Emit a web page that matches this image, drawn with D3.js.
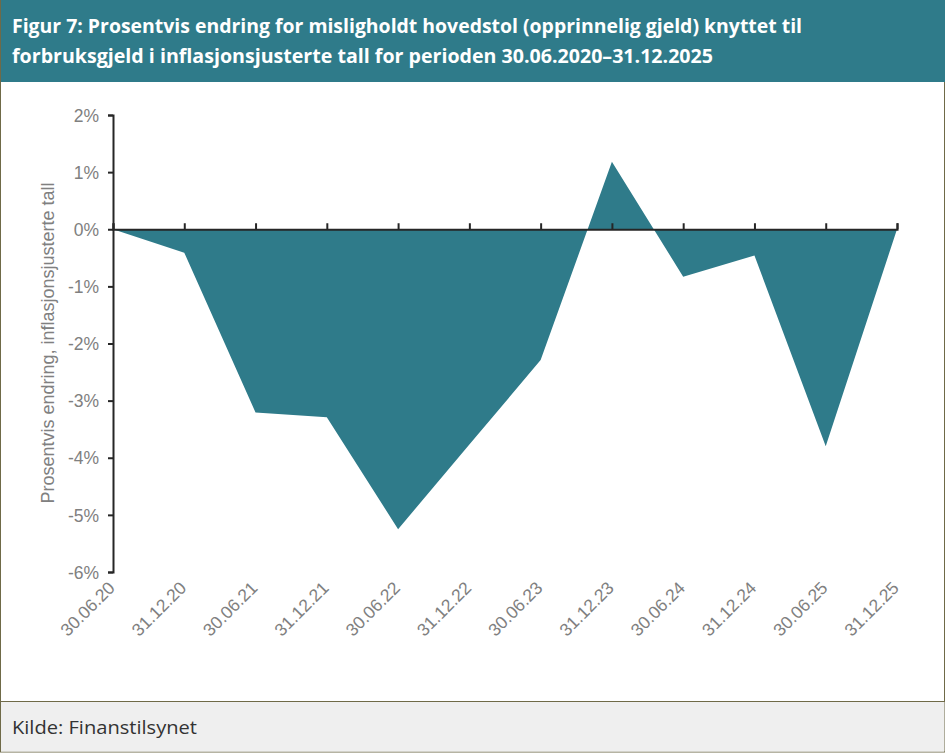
<!DOCTYPE html>
<html lang="no">
<head>
    <meta charset="UTF-8">
    <title>Figur 7</title>
    <script src="https://d3js.org/d3.v7.min.js"></script>
    <style>
        body { margin: 0; background: #fff; }
        .title { font-family: "Open Sans", sans-serif; font-weight: bold; fill: #fff; font-size: 19px; }
        .source { font-family: "Open Sans", sans-serif; fill: #333; font-size: 19px; }
        .axis text { font-family: "Liberation Sans", Arial, sans-serif; fill: #808080; font-size: 17.5px; }
        .axis path, .axis line { stroke: #262626; stroke-width: 2px; }
        .y-label { font-family: "Liberation Sans", Arial, sans-serif; fill: #808080; font-size: 18px; }
    </style>
</head>
<body>
    <script>
        // Data lest av figuren (prosentvis endring, inflasjonsjustert)
        const periods = ["30.06.20", "31.12.20", "30.06.21", "31.12.21", "30.06.22", "31.12.22",
            "30.06.23", "31.12.23", "30.06.24", "31.12.24", "30.06.25", "31.12.25"];
        const changes = [0, -0.41, -3.21, -3.29, -5.25, -3.77, -2.29, 1.18, -0.83, -0.46, -3.80, 0];
        const yTicks = [2, 1, 0, -1, -2, -3, -4, -5, -6];
        const titleLines = [
            "Figur 7: Prosentvis endring for misligholdt hovedstol (opprinnelig gjeld) knyttet til",
            "forbruksgjeld i inflasjonsjusterte tall for perioden 30.06.2020–31.12.2025"
        ];
        const source = "Kilde: Finanstilsynet";

        const W = 947, H = 753;
        const teal = "#2f7b8a", frame = "#6f6a48";

        const svg = d3.select("body").append("svg")
            .attr("width", W)
            .attr("height", H);

        // Ramme, tittelfelt og kildefelt
        svg.append("rect").attr("x", 0.5).attr("y", 0.5).attr("width", W - 3).attr("height", H - 1.5)
            .attr("fill", "#fff").attr("stroke", frame);
        svg.append("rect").attr("x", 1).attr("y", 0).attr("width", W - 3).attr("height", 82).attr("fill", teal);
        svg.append("rect").attr("x", 1).attr("y", 701.5).attr("width", W - 3.5).attr("height", 50)
            .attr("fill", "#efefef");
        svg.append("line").attr("x1", 0).attr("x2", W - 2).attr("y1", 701.5).attr("y2", 701.5)
            .attr("stroke", frame);

        const titleWidths = [790, 701];
        svg.selectAll(".title")
            .data(titleLines)
            .enter().append("text")
            .attr("class", "title")
            .attr("x", 12)
            .attr("y", (d, i) => 33 + i * 30)
            .attr("textLength", (d, i) => titleWidths[i])
            .attr("lengthAdjust", "spacingAndGlyphs")
            .text(d => d);

        svg.append("text")
            .attr("class", "source")
            .attr("x", 12)
            .attr("y", 734)
            .attr("textLength", 185)
            .attr("lengthAdjust", "spacingAndGlyphs")
            .text(source);

        // Skalaer
        const x = d3.scalePoint()
            .domain(periods)
            .range([113, 897]);

        const y = d3.scaleLinear()
            .domain([-6, 2])
            .range([572, 115]);

        // Flateserie
        const area = d3.area()
            .x((d, i) => x(periods[i]))
            .y0(y(0))
            .y1(d => y(d));

        svg.append("path")
            .datum(changes)
            .attr("fill", teal)
            .attr("d", area);

        // y-akse
        const yAxis = svg.append("g")
            .attr("class", "axis")
            .attr("transform", "translate(113,0)")
            .call(d3.axisLeft(y).tickValues(yTicks).tickSize(5).tickSizeOuter(5)
                .tickFormat(d => d + "%"));
        yAxis.selectAll("text").attr("x", -14).attr("dy", "0.35em");

        // x-akse ved 0 med etiketter under diagrammet
        svg.append("g")
            .attr("class", "axis")
            .attr("transform", "translate(0," + y(0) + ")")
            .call(d3.axisTop(x).tickSize(6).tickSizeOuter(6).tickFormat(""));

        svg.selectAll(".x-label")
            .data(periods)
            .enter().append("text")
            .attr("class", "x-label")
            .attr("transform", d => "translate(" + (x(d) + 3) + ",589) rotate(-45)")
            .attr("text-anchor", "end")
            .style("font-family", "'Liberation Sans', Arial, sans-serif")
            .style("font-size", "17.5px")
            .style("fill", "#808080")
            .text(d => d);

        svg.append("text")
            .attr("class", "y-label")
            .attr("transform", "translate(54,343) rotate(-90)")
            .attr("text-anchor", "middle")
            .text("Prosentvis endring, inflasjonsjusterte tall");
    </script>
</body>
</html>
